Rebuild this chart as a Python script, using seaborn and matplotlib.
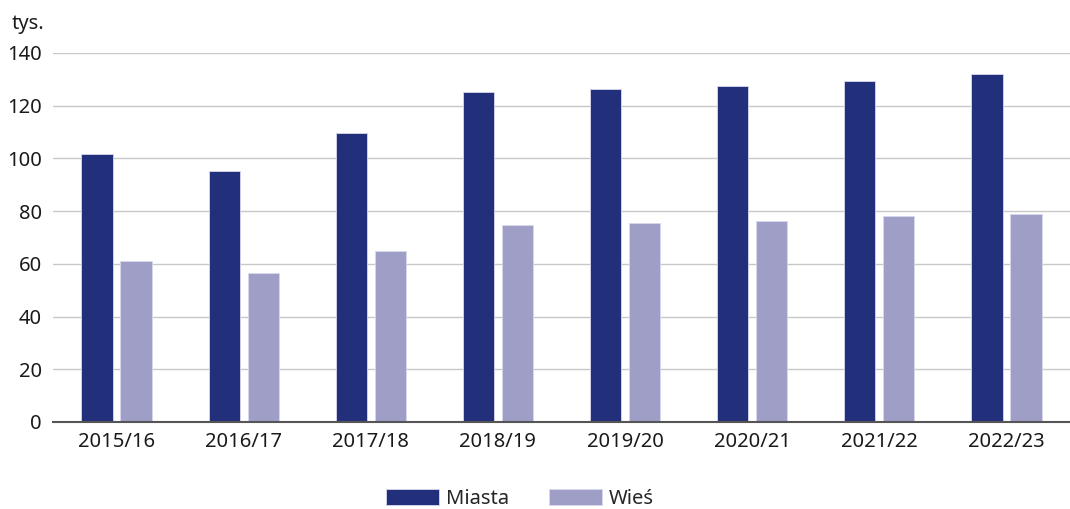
import pandas as pd
import matplotlib.pyplot as plt
import seaborn as sns

years = ['2015/16', '2016/17', '2017/18', '2018/19', '2019/20', '2020/21', '2021/22', '2022/23']
miasta = [101.6, 95.3, 109.7, 125.2, 126.3, 127.4, 129.3, 132.0]
wies = [61.1, 56.4, 64.7, 74.7, 75.3, 76.4, 78.3, 78.8]
series = ['Miasta', 'Wieś']
colors = ['#222f7a', '#9e9ec6']

df = pd.DataFrame({
    'Rok': years * 2,
    'Wartosc': miasta + wies,
    'Seria': [series[0]] * len(years) + [series[1]] * len(years),
})

sns.set_theme(style='white')
plt.rcParams['font.family'] = ['Noto Sans', 'DejaVu Sans']

fig = plt.figure(figsize=(10.7, 5.09), dpi=100)
ax = fig.add_axes([0.0495, 0.171, 0.9505, 0.725])

sns.barplot(data=df, x='Rok', y='Wartosc', hue='Seria', palette=colors,
            saturation=1, width=0.614, gap=0.2, edgecolor='#d8d8ec',
            linewidth=0.6, ax=ax, zorder=3)

ax.set_ylim(0, 140)
ax.set_xlim(-0.5, len(years) - 0.5)
ax.set_yticks(range(0, 141, 20))
ax.yaxis.grid(True, color='#c8c8c8', linewidth=1, zorder=0)
ax.set_axisbelow(True)
for s in ['top', 'right', 'left']:
    ax.spines[s].set_visible(False)
ax.spines['bottom'].set_color('#555555')
ax.spines['bottom'].set_linewidth(1.5)
ax.spines['bottom'].set_zorder(4)
ax.tick_params(axis='both', length=0, labelsize=14.5, colors='#1a1a1a')
ax.tick_params(axis='y', pad=8)
ax.tick_params(axis='x', pad=7)
ax.set_xlabel('')
ax.set_ylabel('')

fig.text(0.011, 0.953, 'tys.', fontsize=14.5, color='#1a1a1a', va='center', ha='left')

ax.legend(loc='center', bbox_to_anchor=(0.486, 0.02), bbox_transform=fig.transFigure,
          ncol=2, frameon=False, fontsize=14.5, handlelength=2.6, handleheight=0.85,
          columnspacing=2.0, handletextpad=0.35)

fig.savefig('out.png', dpi=100)
